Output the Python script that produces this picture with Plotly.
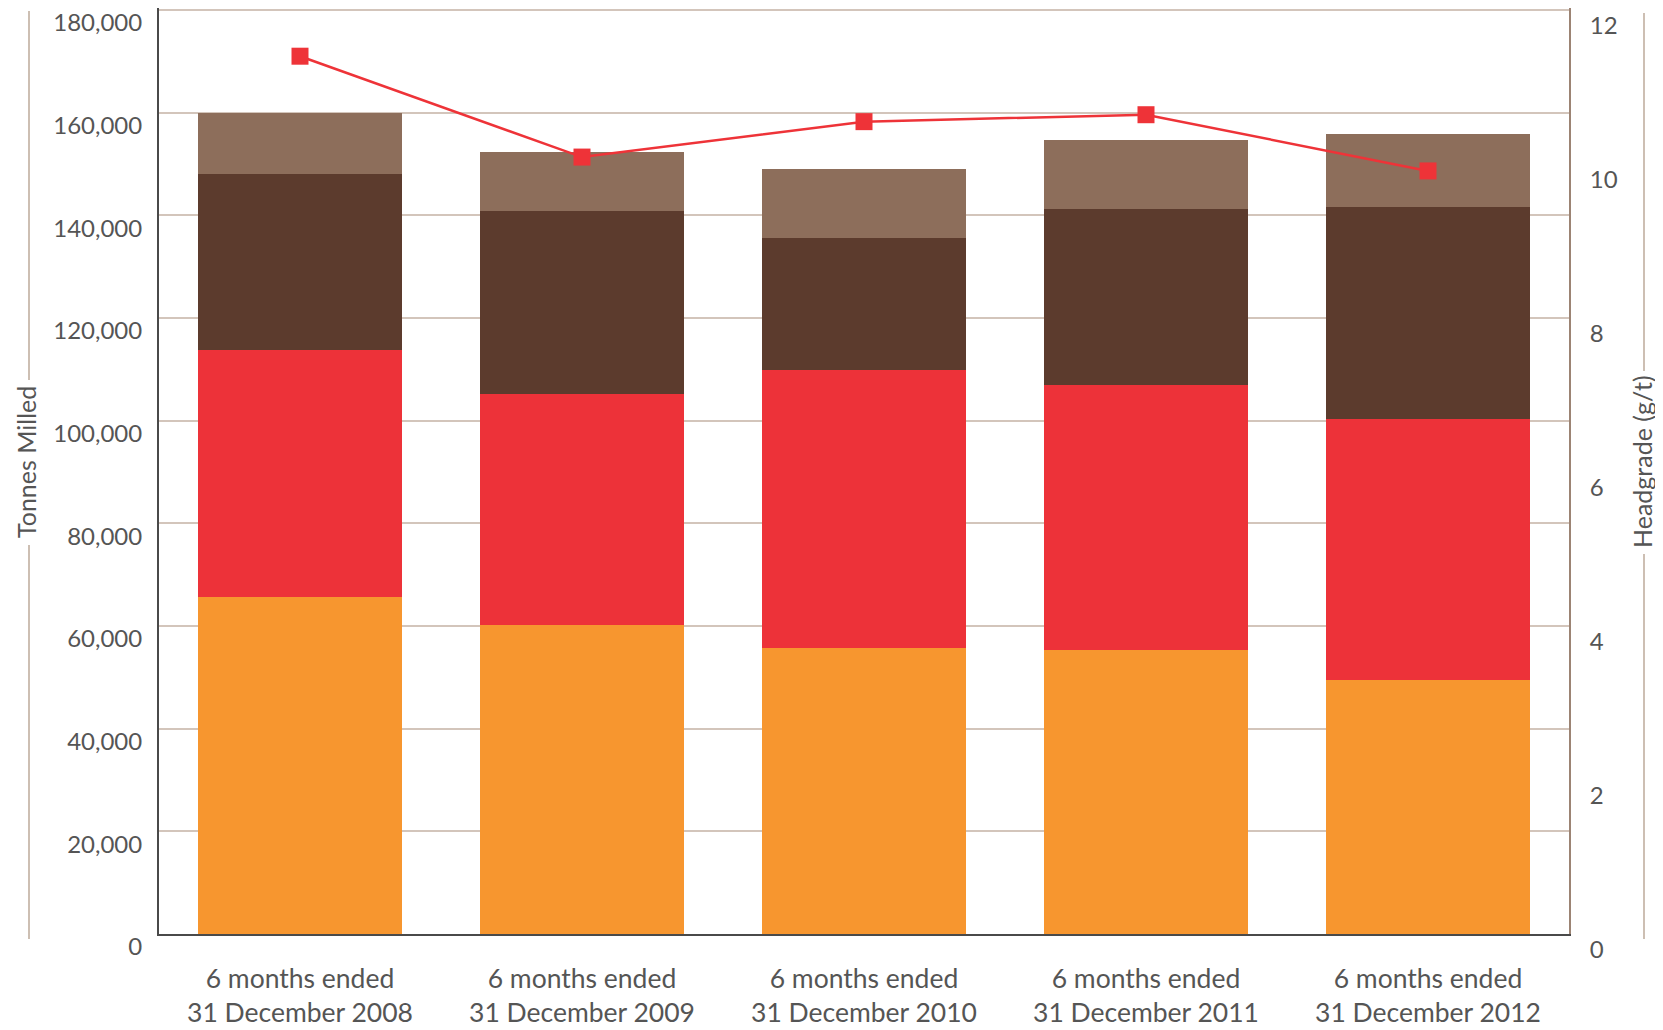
import plotly.graph_objects as go

categories = ["6 months ended<br>31 December 2008", "6 months ended<br>31 December 2009",
              "6 months ended<br>31 December 2010", "6 months ended<br>31 December 2011",
              "6 months ended<br>31 December 2012"]
seg_orange = [65600, 60250, 55700, 55300, 49500]
seg_red = [48150, 44850, 54100, 51650, 50850]
seg_dark = [34300, 35700, 25850, 34300, 41300]
seg_light = [11800, 11600, 13450, 13400, 14250]
headgrade = [11.40, 10.09, 10.55, 10.64, 9.91]
left_ticks = [0, 20000, 40000, 60000, 80000, 100000, 120000, 140000, 160000, 180000]
right_ticks = [0, 2, 4, 6, 8, 10, 12]

FONT = "Lato"
TXT = "#555555"

fig = go.Figure()
for vals, col in [(seg_orange, "#F7962F"), (seg_red, "#ED3239"),
                  (seg_dark, "#5C3B2D"), (seg_light, "#8D6E5B")]:
    fig.add_trace(go.Bar(x=categories, y=vals, marker=dict(color=col, line=dict(width=0)),
                         showlegend=False))

fig.add_trace(go.Scatter(x=categories, y=headgrade, yaxis="y2", mode="lines+markers",
                         line=dict(color="#EE3338", width=2.5),
                         marker=dict(symbol="square", size=17, color="#EE3338"),
                         showlegend=False))

# page body has an 8px margin: figure placed at (8,8); plot area spans y 8..934
EXT = 926.0 / 924.0
fig.update_layout(
    width=1655, height=1022,
    margin=dict(l=151, r=94, t=0, b=96, autoexpand=False),
    paper_bgcolor="white", plot_bgcolor="white",
    barmode="stack", bargap=0.28,
    font=dict(family=FONT, size=23, color=TXT),
    xaxis=dict(showline=True, linecolor="#4a4a4a", linewidth=2, ticks="", automargin=False,
               tickfont=dict(size=26.5, color=TXT), showgrid=False, fixedrange=True,
               ticklabelstandoff=20),
    yaxis=dict(range=[0, 180000 * EXT], tickvals=left_ticks, tickformat=",", showgrid=True,
               gridcolor="#D3C5BB", gridwidth=1.5, showline=True, linecolor="#4a4a4a",
               linewidth=2, ticks="", zeroline=False, ticklabelstandoff=10, automargin=False,
               ticklabelshift=13, ticklabeloverflow="allow", tickfont=dict(size=24, color=TXT)),
    yaxis2=dict(range=[0, 12 * EXT], tickvals=right_ticks, overlaying="y", side="right",
                showgrid=False, showline=True, linecolor="#9C8474", linewidth=2, ticks="",
                zeroline=False, ticklabelstandoff=14, ticklabelshift=16, automargin=False,
                ticklabeloverflow="allow", tickfont=dict(size=24, color=TXT)),
)

W, H = 1410.0, 926.0
def px(x):
    return (x - 159) / W
def py(y):
    return (934 - y) / H

line_col = "#CDBFB3"
shapes = []
for x, y0, y1 in [(29, 11, 380), (29, 545, 939), (1644, 13, 371), (1644, 554, 939)]:
    shapes.append(dict(type="line", xref="paper", yref="paper", x0=px(x), x1=px(x),
                       y0=py(y0), y1=py(y1), line=dict(color=line_col, width=2)))
fig.update_layout(shapes=shapes)

fig.add_annotation(text="Tonnes Milled", xref="paper", yref="paper", x=px(26), y=py(462),
                   textangle=-90, showarrow=False, font=dict(size=25, color=TXT),
                   xanchor="center", yanchor="middle")
fig.add_annotation(text="Headgrade (g/t)", xref="paper", yref="paper", x=px(1642), y=py(462),
                   textangle=-90, showarrow=False, font=dict(size=25, color=TXT),
                   xanchor="center", yanchor="middle")

fig.write_html("out.html")
